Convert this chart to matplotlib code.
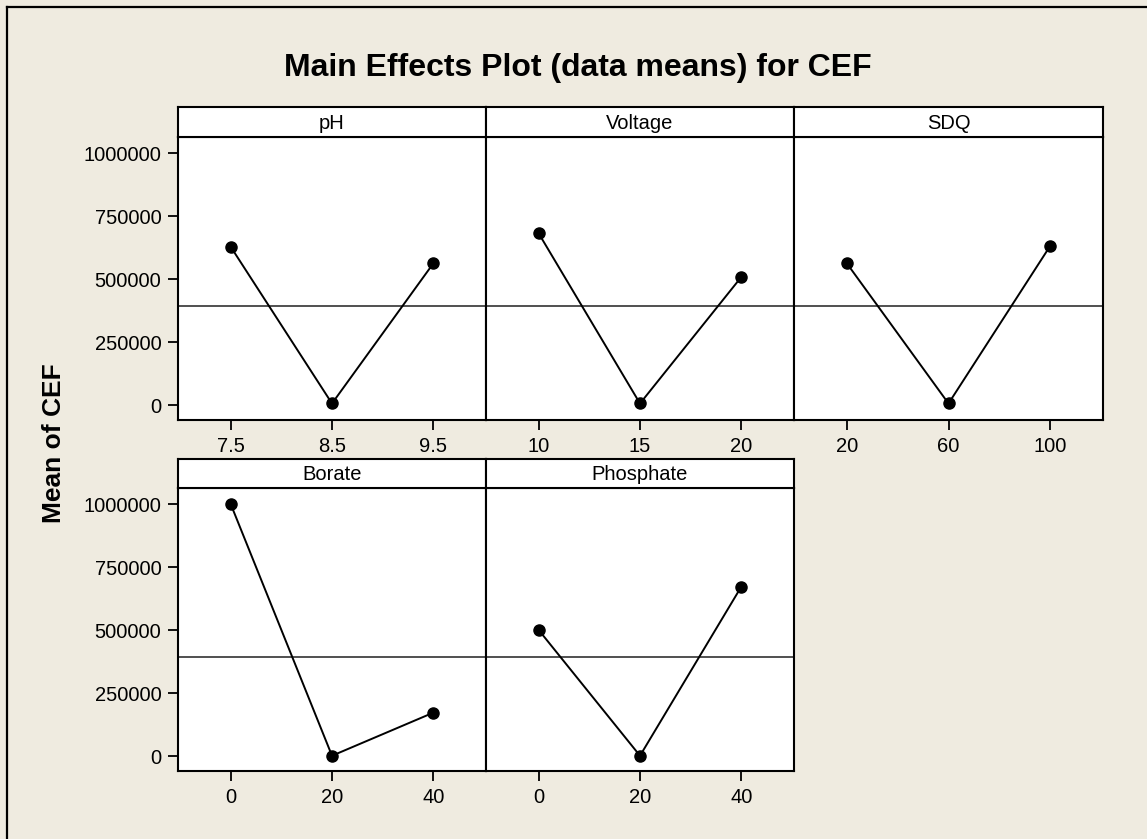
import matplotlib
matplotlib.use('Agg')
import matplotlib.pyplot as plt
from matplotlib.lines import Line2D

# factor levels and the mean response at each level
factors = ['pH', 'Voltage', 'SDQ', 'Borate', 'Phosphate']
levels = {
    'pH': ['7.5', '8.5', '9.5'],
    'Voltage': ['10', '15', '20'],
    'SDQ': ['20', '60', '100'],
    'Borate': ['0', '20', '40'],
    'Phosphate': ['0', '20', '40'],
}
ph_means = [628000, 6000, 562000]
voltage_means = [681000, 6000, 508000]
sdq_means = [562000, 6000, 631000]
borate_means = [1000000, 1000, 172000]
phosphate_means = [500000, 1000, 672000]
grand_mean = 393000

means = {
    'pH': ph_means,
    'Voltage': voltage_means,
    'SDQ': sdq_means,
    'Borate': borate_means,
    'Phosphate': phosphate_means,
}
y_ticks = [0, 250000, 500000, 750000, 1000000]

BG = '#EFEBE0'
W, H = 1147, 839
NARROW = ['Liberation Sans Narrow', 'Liberation Sans', 'DejaVu Sans']


def box(left, top, right, bottom):
    # pixel box -> figure fraction rect
    return [left / W, 1 - bottom / H, (right - left) / W, (bottom - top) / H]


fig = plt.figure(figsize=(W / 100, H / 100), dpi=100, facecolor=BG)

# outer frame (only the left and top edges fall inside the image)
fig.add_artist(Line2D([7 / W, 7 / W], [0, 1 - 7 / H], transform=fig.transFigure,
                      color='black', lw=1.6))
fig.add_artist(Line2D([7 / W, 1], [1 - 7 / H, 1 - 7 / H], transform=fig.transFigure,
                      color='black', lw=1.6))

cols = [(178, 486), (486, 794), (794, 1103)]
rows = [(107, 137, 420), (459, 488, 771)]

for k, name in enumerate(factors):
    r, c = divmod(k, 3)
    left, right = cols[c]
    strip_top, plot_top, plot_bottom = rows[r]

    ax = fig.add_axes(box(left, plot_top, right, plot_bottom))
    ax.set_facecolor('white')
    x = list(range(len(levels[name])))
    ax.axhline(grand_mean, color='#505050', lw=1.4, zorder=1)
    ax.plot(x, means[name], color='black', lw=1.4, marker='o', ms=8, zorder=3)
    ax.set_xlim(-0.52, 2.52)
    ax.set_ylim(-59500, 1063500)
    ax.set_xticks(x)
    ax.set_xticklabels(levels[name], family=NARROW, fontsize=14.5)
    ax.set_yticks(y_ticks)
    if c == 0:
        ax.set_yticklabels([str(v) for v in y_ticks], family=NARROW, fontsize=14.5)
    else:
        ax.tick_params(axis='y', left=False, labelleft=False)
    ax.tick_params(direction='out', length=7, width=1.3, color='black', pad=5)
    for s in ax.spines.values():
        s.set_linewidth(1.5)
        s.set_color('black')

    strip = fig.add_axes(box(left, strip_top, right, plot_top))
    strip.set_facecolor('white')
    strip.set_xticks([])
    strip.set_yticks([])
    for s in strip.spines.values():
        s.set_linewidth(1.5)
        s.set_color('black')
    strip.text(0.5, 0.45, name, ha='center', va='center', family=NARROW,
               fontsize=14.5, transform=strip.transAxes)

fig.text(578 / W, 1 - 68 / H, 'Main Effects Plot (data means) for CEF',
         ha='center', va='center', family=NARROW, fontsize=23, fontweight='bold')
fig.text(54 / W, 1 - 443 / H, 'Mean of CEF', rotation=90, ha='center', va='center',
         family=['Liberation Sans', 'DejaVu Sans'], fontsize=19, fontweight='bold')

fig.savefig('out.png', dpi=100, facecolor=BG)
